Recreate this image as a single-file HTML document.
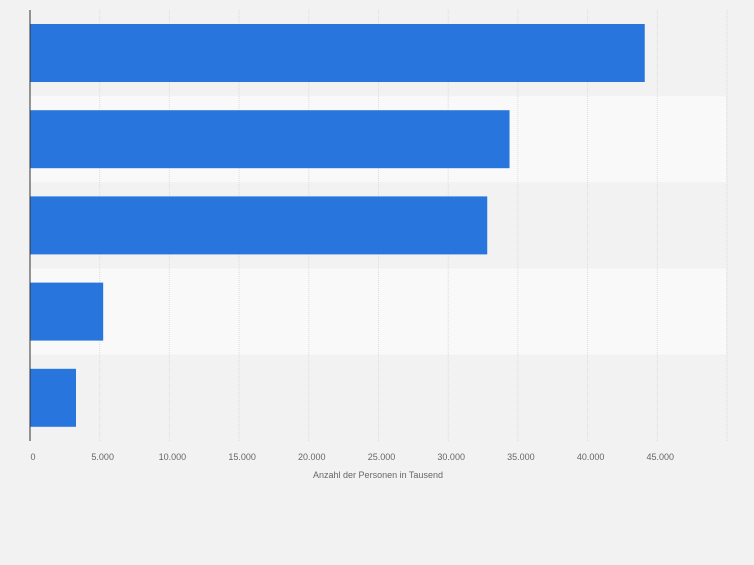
<!DOCTYPE html>
<html><head><meta charset="utf-8"><style>
body{margin:0;background:#f2f2f2;font-family:"Liberation Sans",sans-serif}
</style></head><body>
<svg id="c" width="754" height="560" xmlns="http://www.w3.org/2000/svg"></svg>
<script>
const categories=["A","B","C","D","E"];
const values=[44100,34400,32800,5250,3300];
const ticks=[0,5000,10000,15000,20000,25000,30000,35000,40000,45000];
const tickLabels=["0","5.000","10.000","15.000","20.000","25.000","30.000","35.000","40.000","45.000"];
const svg=document.getElementById('c');
const NS="http://www.w3.org/2000/svg";
const x0=30,pxPer=69.7/5000,top0=10,bandH=86.2;
const xs=v=>x0+v*pxPer;
function mk(t,a){const e=document.createElementNS(NS,t);for(const k in a)e.setAttribute(k,a[k]);svg.appendChild(e);return e;}
categories.forEach((c,i)=>{
  const b=mk('rect',{x:x0,y:top0+i*bandH,width:696,height:bandH,fill:i%2?'#f9f9f9':'#f2f2f2'});
  
  
});
for(let v=5000;v<=50000;v+=5000){
  const g=mk('line',{x1:xs(v),x2:xs(v),y1:top0,y2:441,stroke:'#dcdcdc','stroke-dasharray':'1,1'});
  
  
}
values.forEach((v,i)=>{
  const r=mk('rect',{x:x0,y:top0+i*bandH+14,width:xs(v)-x0,height:58,fill:'#2876dd'});
  
  
});
const ax=mk('line',{x1:x0,x2:x0,y1:top0,y2:441,stroke:'#333','stroke-width':1});


ticks.forEach((t,i)=>{
  const tx=mk('text',{x:xs(t)+3,y:460,'font-size':9,fill:'#666','text-anchor':'middle'});
  tx.textContent=tickLabels[i];
  
  
});
const tt=mk('text',{x:378,y:478,'font-size':9,fill:'#666','text-anchor':'middle'});
tt.textContent="Anzahl der Personen in Tausend";


</script>
</body></html>
